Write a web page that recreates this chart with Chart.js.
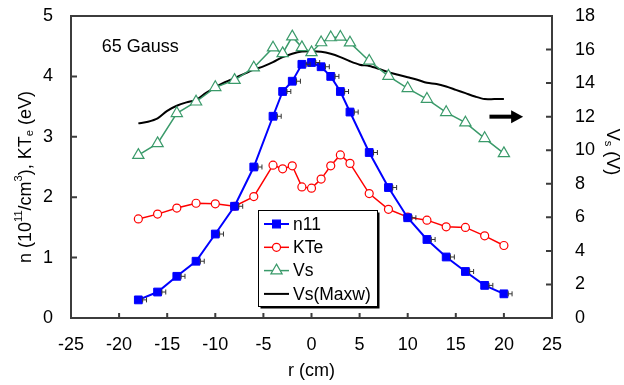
<!DOCTYPE html>
<html>
<head>
<meta charset="utf-8">
<script src="https://cdn.jsdelivr.net/npm/chart.js@4.4.1/dist/chart.umd.min.js"></script>
<style>
  body { margin: 0; background: #fff; }
  canvas { display: block; }
</style>
</head>
<body>
<canvas id="myChart" width="624" height="385"></canvas>
<script>
// data
const rPos = [-18, -16, -14, -12, -10, -8, -6, -4, -3, -2, -1, 0, 1, 2, 3, 4, 6, 8, 10, 12, 14, 16, 18, 20];
const n11 = [0.30, 0.43, 0.69, 0.94, 1.39, 1.85, 2.50, 3.34, 3.75, 3.92, 4.20, 4.23, 4.16, 4.00, 3.75, 3.41, 2.74, 2.16, 1.66, 1.30, 1.01, 0.77, 0.54, 0.40];
const kTe = [1.64, 1.72, 1.82, 1.90, 1.89, 1.85, 2.01, 2.53, 2.47, 2.52, 2.17, 2.15, 2.30, 2.52, 2.70, 2.56, 2.06, 1.80, 1.67, 1.62, 1.51, 1.50, 1.36, 1.20];
const vs = [9.71, 10.41, 12.2, 12.89, 13.75, 14.18, 14.92, 16.11, 15.77, 16.77, 16.13, 15.83, 16.42, 16.72, 16.75, 16.41, 15.32, 14.42, 13.69, 13.05, 12.26, 11.64, 10.71, 9.81];
const rMaxw = [-18, -17, -16, -15, -14, -13, -12, -11, -10, -9, -8, -7, -6, -5, -4, -3, -2, -1, 0, 1, 2, 3, 4, 5, 6, 7, 8, 9, 10, 11, 12, 13, 14, 15, 16, 17, 18, 19, 20];
const vsMaxw = [11.6, 11.7, 11.9, 12.35, 12.65, 12.85, 13.0, 13.4, 13.75, 14.05, 14.3, 14.55, 14.8, 15.0, 15.25, 15.55, 15.75, 15.88, 15.9, 15.87, 15.75, 15.55, 15.3, 15.1, 15.02, 14.85, 14.65, 14.5, 14.35, 14.2, 14.02, 13.95, 13.8, 13.6, 13.4, 13.2, 13.05, 13.05, 13.05];
// horizontal error bars on n11 (cm, right of point as drawn)
const nErrLo = 0.45, nErrHi = 0.85;

// tick labels and inner tick marks
const xLabels = [-25, -20, -15, -10, -5, 0, 5, 10, 15, 20, 25];
const yLabels = [0, 1, 2, 3, 4, 5];
const y2Labels = [0, 2, 4, 6, 8, 10, 12, 14, 16, 18];
const xTicks = [-20, -15, -10, -5, 0, 5, 10, 15, 20];
const yTicks = [1, 2, 3, 4];
const y2Ticks = [2, 4, 6, 8, 10, 12, 14, 16];

const FONT = "'Liberation Sans', Arial, sans-serif";
const BLUE = '#0000ff', RED = '#ff0000', GREEN = '#3a9a6a';
const FRAME = '#3c3c3c';

function pts(xs, ys) {
  return xs.map((x, i) => ({ x: x, y: ys[i] }));
}

const legendItems = [
  { label: 'n11', color: BLUE, style: 'rect', fill: BLUE, r: 5.5, w: 2 },
  { label: 'KTe', color: RED, style: 'circle', fill: '#fff', r: 4, w: 1.5 },
  { label: 'Vs', color: GREEN, style: 'triangle', fill: '#fff', r: 6.5, w: 1.5 },
  { label: 'Vs(Maxw)', color: '#000', style: null, r: 0, w: 2 }
];

// helper: text runs with super/subscripts, centred on the origin
function drawRuns(ctx, runs, size) {
  let total = 0;
  runs.forEach(rn => {
    ctx.font = (rn.s ? size * 0.62 : size) + 'px ' + FONT;
    rn.w = ctx.measureText(rn.t).width;
    total += rn.w;
  });
  let x = -total / 2;
  runs.forEach(rn => {
    ctx.font = (rn.s ? size * 0.62 : size) + 'px ' + FONT;
    let dy = 0;
    if (rn.s === 'sup') dy = -size * 0.38;
    if (rn.s === 'sub') dy = size * 0.22;
    ctx.fillText(rn.t, x, dy);
    x += rn.w;
  });
}

const extras = {
  id: 'extras',
  afterDraw(chart) {
    const c = chart.ctx;
    const xs = chart.scales.x, ys = chart.scales.y, ys2 = chart.scales.y2;
    const L = xs.getPixelForValue(xs.min), R = xs.getPixelForValue(xs.max);
    const T = ys.getPixelForValue(ys.max), B = ys.getPixelForValue(ys.min);
    c.save();

    // error bars on n11
    c.strokeStyle = '#333';
    c.lineWidth = 1;
    rPos.forEach((r, i) => {
      const x1 = xs.getPixelForValue(r + nErrLo), x2 = xs.getPixelForValue(r + nErrHi);
      const y = ys.getPixelForValue(n11[i]);
      c.beginPath();
      c.moveTo(x1, y); c.lineTo(x2, y);
      c.moveTo(x1, y - 2.5); c.lineTo(x1, y + 2.5);
      c.moveTo(x2, y - 2.5); c.lineTo(x2, y + 2.5);
      c.stroke();
    });

    // label inside plot
    c.fillStyle = '#000';
    c.font = '18px ' + FONT;
    c.textAlign = 'left';
    c.textBaseline = 'alphabetic';
    c.fillText('65 Gauss', xs.getPixelForValue(-21.8), ys.getPixelForValue(4.4));

    // arrow pointing to the right axis
    const ax1 = xs.getPixelForValue(18.5), ax2 = xs.getPixelForValue(22);
    const ay = ys2.getPixelForValue(12);
    c.strokeStyle = '#000';
    c.lineWidth = 4;
    c.beginPath();
    c.moveTo(ax1, ay); c.lineTo(ax2 - 9, ay);
    c.stroke();
    c.beginPath();
    c.moveTo(ax2, ay); c.lineTo(ax2 - 12, ay - 6.5); c.lineTo(ax2 - 12, ay + 6.5);
    c.closePath();
    c.fill();

    // legend box with shadow
    const lx = 258, ly = 210, lw = 119, lh = 96;
    c.fillStyle = '#000';
    c.fillRect(lx + 2.5, ly + 2.5, lw, lh);
    c.fillStyle = '#fff';
    c.fillRect(lx, ly, lw, lh);
    c.strokeStyle = '#000';
    c.lineWidth = 1;
    c.strokeRect(lx + 0.5, ly + 0.5, lw, lh);
    legendItems.forEach((it, i) => {
      const cy = ly + 14 + i * 23.3;
      c.strokeStyle = it.color;
      c.lineWidth = it.w;
      c.beginPath();
      c.moveTo(lx + 6, cy); c.lineTo(lx + 31, cy);
      c.stroke();
      if (it.style) {
        c.fillStyle = it.fill;
        c.lineWidth = 1.2;
        Chart.helpers.drawPoint(c, { pointStyle: it.style, radius: it.r, rotation: 0, borderWidth: 1.2 }, lx + 18.5, cy);
      }
      c.fillStyle = '#000';
      c.font = '17.5px ' + FONT;
      c.textAlign = 'left';
      c.textBaseline = 'middle';
      c.fillText(it.label, lx + 35, cy + 1);
    });

    // tick labels
    c.fillStyle = '#000';
    c.font = '18px ' + FONT;
    c.textBaseline = 'middle';
    c.textAlign = 'right';
    yLabels.forEach(v => c.fillText(String(v), L - 18, ys.getPixelForValue(v)));
    c.textAlign = 'left';
    y2Labels.forEach(v => c.fillText(String(v), R + 23, ys2.getPixelForValue(v)));
    c.textAlign = 'center';
    xLabels.forEach(v => c.fillText(String(v), xs.getPixelForValue(v), B + 27));

    // axis titles
    c.fillText('r (cm)', (L + R) / 2, 371);
    c.textAlign = 'left';

    c.save();
    c.translate(26, 177);
    c.rotate(-Math.PI / 2);
    drawRuns(c, [
      { t: 'n (10' }, { t: '11', s: 'sup' }, { t: '/cm' }, { t: '3', s: 'sup' },
      { t: '), KT' }, { t: 'e', s: 'sub' }, { t: ' (eV)' }
    ], 18);
    c.restore();

    c.save();
    c.translate(612, 152);
    c.rotate(Math.PI / 2);
    drawRuns(c, [{ t: 'V' }, { t: 's', s: 'sub' }, { t: ' (V)' }], 18);
    c.restore();

    // plot frame and inward ticks, drawn last
    c.strokeStyle = FRAME;
    c.lineWidth = 2;
    c.beginPath();
    c.rect(L, T, R - L, B - T);
    yTicks.forEach(v => {
      const y = ys.getPixelForValue(v);
      c.moveTo(L, y); c.lineTo(L + 6, y);
    });
    y2Ticks.forEach(v => {
      const y = ys2.getPixelForValue(v);
      c.moveTo(R, y); c.lineTo(R - 6, y);
    });
    xTicks.forEach(v => {
      const x = xs.getPixelForValue(v);
      c.moveTo(x, B); c.lineTo(x, B - 5);
    });
    c.stroke();

    c.restore();
  }
};

const ctx = document.getElementById('myChart').getContext('2d');
const myChart = new Chart(ctx, {
  type: 'line',
  data: {
    datasets: [{
      label: 'n11',
      data: pts(rPos, n11),
      yAxisID: 'y',
      borderColor: BLUE,
      backgroundColor: BLUE,
      borderWidth: 2,
      pointStyle: 'rect',
      pointRadius: 5.5,
      pointBorderWidth: 1
    }, {
      label: 'KTe',
      data: pts(rPos, kTe),
      yAxisID: 'y',
      borderColor: RED,
      backgroundColor: '#fff',
      borderWidth: 1.5,
      pointStyle: 'circle',
      pointRadius: 4,
      pointBorderWidth: 1.2
    }, {
      label: 'Vs',
      data: pts(rPos, vs),
      yAxisID: 'y2',
      borderColor: GREEN,
      backgroundColor: '#fff',
      borderWidth: 1.5,
      pointStyle: 'triangle',
      pointRadius: 6.5,
      pointBorderWidth: 1.2
    }, {
      label: 'Vs(Maxw)',
      data: pts(rMaxw, vsMaxw),
      yAxisID: 'y2',
      borderColor: '#000',
      borderWidth: 2,
      pointRadius: 0,
      tension: 0.3
    }]
  },
  options: {
    responsive: false,
    animation: false,
    layout: { padding: { top: 16, left: 71, right: 72, bottom: 67 } },
    plugins: {
      legend: { display: false },
      tooltip: { enabled: false }
    },
    scales: {
      x: {
        type: 'linear',
        min: -25, max: 25,
        ticks: { stepSize: 5, color: '#000', font: { family: FONT, size: 18 }, padding: 14, maxRotation: 0 },
        grid: { display: true, drawOnChartArea: false, drawTicks: false, color: FRAME },
        border: { display: true, color: FRAME, width: 2 }
      },
      y: {
        position: 'left',
        min: 0, max: 5,
        ticks: { stepSize: 1, color: '#000', font: { family: FONT, size: 18 }, padding: 18 },
        grid: { display: true, drawOnChartArea: false, drawTicks: false, color: FRAME },
        border: { display: true, color: FRAME, width: 2 }
      },
      y2: {
        position: 'right',
        min: 0, max: 18,
        ticks: { stepSize: 2, color: '#000', font: { family: FONT, size: 18 }, padding: 23 },
        grid: { display: true, drawOnChartArea: false, drawTicks: false, color: FRAME },
        border: { display: true, color: FRAME, width: 2 }
      }
    }
  },
  plugins: [extras]
});

// zero-size axis boxes so the plot area sits where it does in the figure;
// the tick labels are drawn by the plugin above
myChart.options.scales.x.afterFit = s => { s.height = 0; };
myChart.options.scales.y.afterFit = s => { s.width = 0; s.paddingTop = 0; s.paddingBottom = 0; };
myChart.options.scales.y2.afterFit = s => { s.width = 0; s.paddingTop = 0; s.paddingBottom = 0; };
myChart.update();
</script>
</body>
</html>
